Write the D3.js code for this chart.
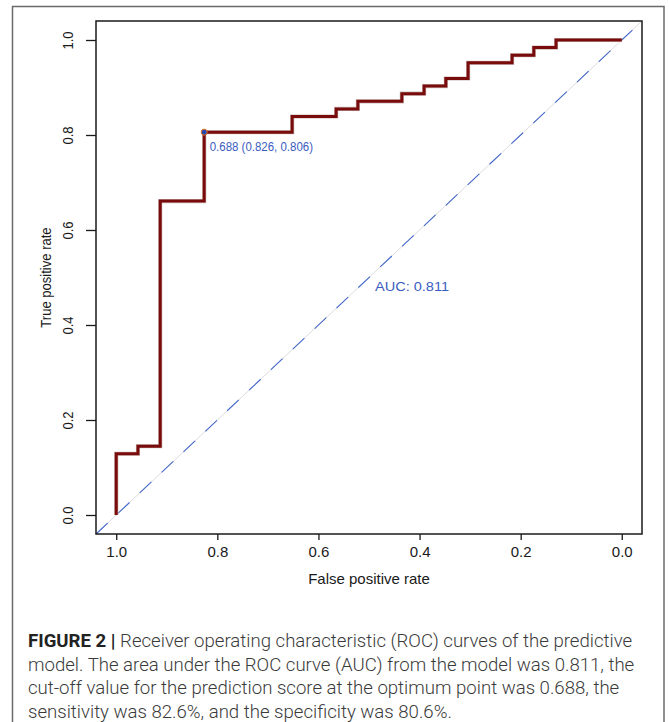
<!DOCTYPE html>
<html>
<head>
<meta charset="utf-8">
<script src="https://cdn.jsdelivr.net/npm/d3@7"></script>
<style>
  body { margin: 0; background: #fff; }
  svg { display: block; }
</style>
</head>
<body>
<script>
(function () {
  // ROC step vertices (specificity on reversed x, sensitivity on y)
  const specificity = [1.0, 1.0, 0.957, 0.913, 0.826, 0.652, 0.565, 0.522, 0.435, 0.391, 0.348, 0.304, 0.217, 0.174, 0.130, 0.0];
  const sensitivity = [0.0, 0.129, 0.145, 0.661, 0.806, 0.839, 0.855, 0.871, 0.887, 0.903, 0.919, 0.952, 0.968, 0.984, 1.0, 1.0];
  const xTicks = [1.0, 0.8, 0.6, 0.4, 0.2, 0.0];
  const yTicks = [0.0, 0.2, 0.4, 0.6, 0.8, 1.0];
  const bestThreshold = 0.688;
  const bestSpec = 0.826;
  const bestSens = 0.806;
  const auc = 0.811;
  const captionBold = 'FIGURE 2 |';
  const captionLines = [
    ' Receiver operating characteristic (ROC) curves of the predictive',
    'model. The area under the ROC curve (AUC) from the model was 0.811, the',
    'cut-off value for the prediction score at the optimum point was 0.688, the',
    'sensitivity was 82.6%, and the specificity was 80.6%.'
  ];

  const width = 669;
  const height = 722;
  const plot = { left: 96, right: 642, top: 21, bottom: 534 };
  const blue = '#3a5cc0';
  const ink = '#1a1a1a';
  const font = '"Liberation Sans", Arial, Helvetica, sans-serif';

  const x = d3.scaleLinear().domain([1.04, -0.04]).range([plot.left, plot.right]);
  const y = d3.scaleLinear().domain([-0.04, 1.04]).range([plot.bottom, plot.top]);
  const fmt = d3.format('.1f');
  const fmt3 = d3.format('.3f');

  const svg = d3.select('body').append('svg')
    .attr('width', width)
    .attr('height', height);

  // outer figure frame
  svg.append('path')
    .attr('d', `M12.5,${height + 2}V6.5H664V${height + 2}`)
    .attr('fill', 'none')
    .attr('stroke', '#6a6a6a')
    .attr('stroke-width', 1.5);

  const g = svg.append('g');

  // identity line
  g.append('line')
    .attr('x1', x(1.04)).attr('y1', y(-0.04))
    .attr('x2', x(-0.04)).attr('y2', y(1.04))
    .attr('stroke', '#dcdcdc')
    .attr('stroke-width', 1);

  g.append('line')
    .attr('x1', x(1.04)).attr('y1', y(-0.04))
    .attr('x2', x(-0.04)).attr('y2', y(1.04))
    .attr('stroke', '#4468cc')
    .attr('stroke-width', 1.1)
    .attr('stroke-dasharray', '16,14');

  // ROC curve
  const pts = specificity.map((s, i) => [s, sensitivity[i]]);
  const line = d3.line()
    .x(d => x(d[0]))
    .y(d => y(d[1]))
    .curve(d3.curveStepAfter);

  g.append('path')
    .datum(pts)
    .attr('d', line)
    .attr('fill', 'none')
    .attr('stroke', '#cbbcbc')
    .attr('stroke-width', 4.2);

  g.append('path')
    .datum(pts)
    .attr('d', line)
    .attr('fill', 'none')
    .attr('stroke', '#7a0b0b')
    .attr('stroke-width', 3);

  // optimum threshold point and label
  g.append('circle')
    .attr('cx', x(bestSpec))
    .attr('cy', y(bestSens))
    .attr('r', 3)
    .attr('fill', '#2448b0')
    .attr('stroke', '#e07020')
    .attr('stroke-width', 1);

  g.append('text')
    .attr('transform', `translate(${x(bestSpec) + 5.5},${y(bestSens) + 18.5}) scale(0.82,0.95)`)
    .attr('font-family', font)
    .attr('font-size', 14)
    .attr('fill', blue)
    .text(`${fmt3(bestThreshold)} (${fmt3(bestSpec)}, ${fmt3(bestSens)})`);

  g.append('text')
    .attr('transform', `translate(${x(0.5) + 6},${y(0.5) + 13}) scale(0.97,0.9)`)
    .attr('font-family', font)
    .attr('font-size', 15)
    .attr('fill', blue)
    .text(`AUC: ${fmt3(auc)}`);

  // plot box
  g.append('rect')
    .attr('x', plot.left)
    .attr('y', plot.top)
    .attr('width', plot.right - plot.left)
    .attr('height', plot.bottom - plot.top)
    .attr('fill', 'none')
    .attr('stroke', ink)
    .attr('stroke-width', 1.5);

  // x axis
  const xAxis = d3.axisBottom(x)
    .tickValues(xTicks)
    .tickFormat(fmt)
    .tickSize(6)
    .tickPadding(6);

  svg.append('g')
    .attr('transform', `translate(0,${plot.bottom})`)
    .call(xAxis)
    .call(a => a.select('.domain').remove())
    .call(a => a.selectAll('line').attr('stroke', ink).attr('stroke-width', 1.3))
    .call(a => a.selectAll('text')
      .attr('font-family', font)
      .attr('font-size', 15)
      .attr('fill', ink));

  // y axis
  const yAxis = d3.axisLeft(y)
    .tickValues(yTicks)
    .tickFormat(fmt)
    .tickSize(10)
    .tickPadding(0);

  svg.append('g')
    .attr('transform', `translate(${plot.left},0)`)
    .call(yAxis)
    .call(a => a.select('.domain').remove())
    .call(a => a.selectAll('line').attr('stroke', ink).attr('stroke-width', 1.3))
    .call(a => a.selectAll('text')
      .attr('font-family', font)
      .attr('font-size', 15)
      .attr('fill', ink)
      .attr('text-anchor', 'middle')
      .attr('dy', 0)
      .attr('x', 0)
      .attr('transform', 'translate(-23.5,0) rotate(-90) scale(0.87,1)'));

  // axis titles
  svg.append('text')
    .attr('x', (plot.left + plot.right) / 2)
    .attr('y', 584)
    .attr('text-anchor', 'middle')
    .attr('font-family', font)
    .attr('font-size', 15)
    .attr('fill', ink)
    .text('False positive rate');

  svg.append('text')
    .attr('transform', `translate(51,${(plot.top + plot.bottom) / 2}) rotate(-90) scale(0.87,1)`)
    .attr('text-anchor', 'middle')
    .attr('font-family', font)
    .attr('font-size', 15)
    .attr('fill', ink)
    .text('True positive rate');

  // caption
  const cap = svg.append('g')
    .attr('font-family', 'Roboto, "Open Sans", sans-serif')
    .attr('font-size', 18.6)
    .attr('fill', '#3a3a3a');

  captionLines.forEach((txt, i) => {
    const t = cap.append('text')
      .attr('x', 28)
      .attr('y', 647 + i * 23.5);
    if (i === 0) {
      t.append('tspan')
        .attr('font-weight', 'bold')
        .attr('fill', '#222')
        .text(captionBold);
      t.append('tspan')
        .attr('font-weight', 300)
        .text(txt);
    } else {
      t.attr('font-weight', 300).text(txt);
    }
  });
})();
</script>
</body>
</html>
